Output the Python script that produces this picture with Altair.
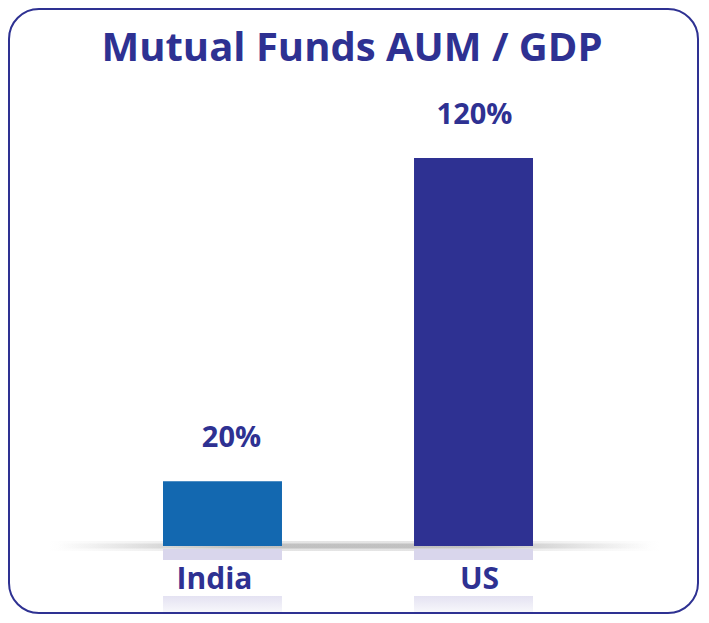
import altair as alt
import pandas as pd

# ---- data ----
categories = ["India", "US"]
values = [20, 120]
title_text = "Mutual Funds AUM / GDP"

bar_colors = ["#1368b0", "#2e3192"]
text_color = "#2e3192"
FONT = "Open Sans"

df = pd.DataFrame({
    "country": categories,
    "value": values,
    "label": [f"{v}%" for v in values],
    "color": bar_colors,
})

W, H = 692, 606

x_enc = alt.X("country:N", sort=categories, axis=None,
              scale=alt.Scale(range=[155, 525], paddingInner=0.526, paddingOuter=0))
y0_px, y120_px = 538, 150
slope = (y0_px - y120_px) / 120.0
y_scale = alt.Scale(domain=[-(H - y0_px) / slope, 120 + y120_px / slope], nice=False, zero=False)

base = alt.Chart(df)

# rounded border
border = alt.Chart(pd.DataFrame({"k": [0]})).mark_rect(
    cornerRadius=30, fill="white", stroke="#2e3192", strokeWidth=2
).encode(x=alt.value(1), x2=alt.value(W - 2), y=alt.value(1), y2=alt.value(H - 1))

title = alt.Chart(pd.DataFrame({"t": [title_text]})).mark_text(
    font=FONT, fontWeight="bold", fontSize=40, color=text_color,
    align="center", baseline="middle"
).encode(x=alt.value(344), y=alt.value(41), text="t:N")

# baseline shadow (soft)
def hgrad(alpha):
    return alt.Gradient(
        gradient="linear", x1=0, x2=1, y1=0, y2=0,
        stops=[
            alt.GradientStop(color="rgba(160,160,160,0)", offset=0),
            alt.GradientStop(color=f"rgba(150,150,150,{alpha})", offset=0.3),
            alt.GradientStop(color=f"rgba(150,150,150,{alpha})", offset=0.7),
            alt.GradientStop(color="rgba(160,160,160,0)", offset=1),
        ],
    )

shadow_outer = alt.Chart(pd.DataFrame({"k": [0]})).mark_rect(color=hgrad(0.25)).encode(
    x=alt.value(40), x2=alt.value(652), y=alt.value(533), y2=alt.value(543))
shadow_inner = alt.Chart(pd.DataFrame({"k": [0]})).mark_rect(color=hgrad(0.45)).encode(
    x=alt.value(50), x2=alt.value(642), y=alt.value(535.5), y2=alt.value(540.5))

bars = base.mark_bar().encode(
    x=x_enc,
    y=alt.Y("value:Q", scale=y_scale, axis=None),
    y2=alt.Y2(datum=0),
    color=alt.Color("color:N", scale=None, legend=None),
)

refl1 = base.mark_bar(color="#d9d6ec").encode(
    x=x_enc, y=alt.value(541), y2=alt.value(552)
)

refl2 = base.mark_bar(
    color=alt.Gradient(
        gradient="linear", x1=0, x2=0, y1=0, y2=1,
        stops=[
            alt.GradientStop(color="#e4e2f2", offset=0),
            alt.GradientStop(color="#f7f7fb", offset=1),
        ],
    )
).encode(x=x_enc, y=alt.value(588), y2=alt.value(H - 2))

layers = [border, title, shadow_outer, shadow_inner, bars, refl1, refl2]

label_dx = {"India": 9, "US": 1}
name_dx = {"India": -8, "US": 6}
for c in categories:
    sub = base.transform_filter(alt.datum.country == c)
    layers.append(sub.mark_text(
        font=FONT, fontWeight="bold", fontSize=29, color=text_color,
        baseline="middle", dy=-43, dx=label_dx[c]
    ).encode(x=x_enc, y=alt.Y("value:Q", scale=y_scale, axis=None), text="label:N"))
    layers.append(sub.mark_text(
        font=FONT, fontWeight="bold", fontSize=30, color=text_color,
        baseline="middle", dx=name_dx[c]
    ).encode(x=x_enc, y=alt.value(572), text="country:N"))

chart = alt.layer(*layers).properties(
    width=W, height=H, autosize=alt.AutoSizeParams(type="none"), padding=0
).configure_view(stroke=None)

chart.save("out.html", embed_options={"renderer": "svg", "actions": False})
